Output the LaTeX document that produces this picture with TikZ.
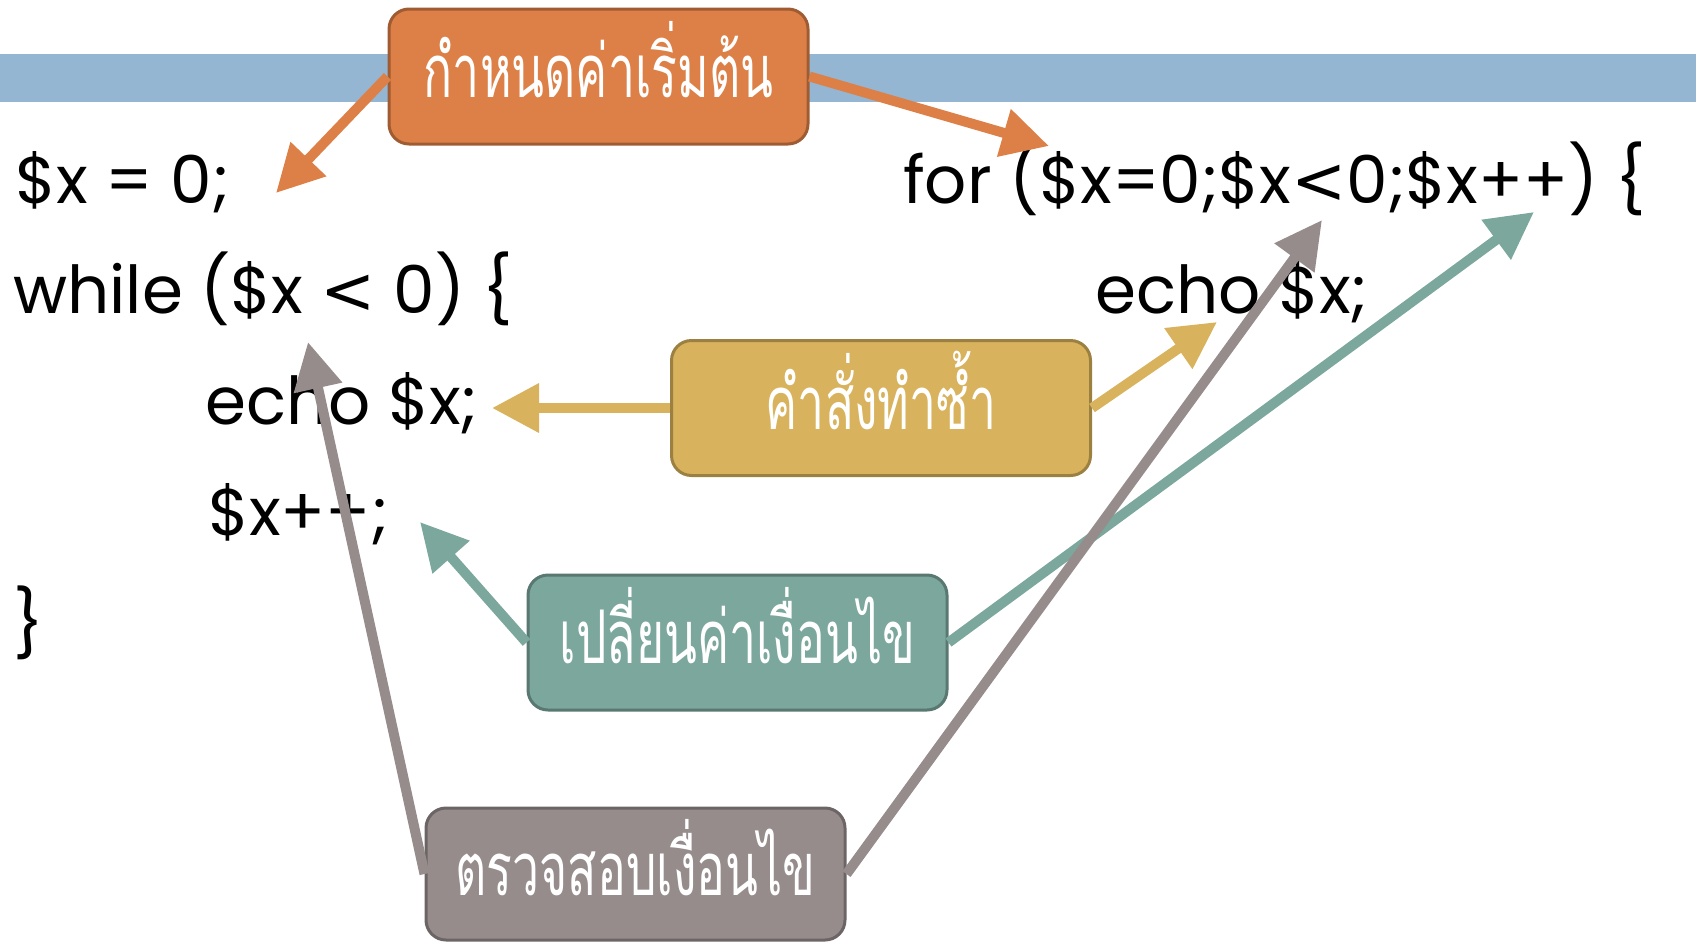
\documentclass[tikz,border=0pt]{standalone}
\usepackage{fontspec}
\newfontfamily\thaifont[Script=Thai, FakeStretch=0.65]{Loma}
\newfontfamily\codefont{Poppins}
\newfontfamily\symfont{DejaVu Sans}
\newcommand\lessthan{{\symfont <}}
\usepackage{xcolor}
\usetikzlibrary{arrows.meta, positioning}

\definecolor{barblue}{HTML}{94B6D2}
\definecolor{initorange}{HTML}{DD8047}
\definecolor{loopyellow}{HTML}{D8B25C}
\definecolor{stepgreen}{HTML}{7BA79D}
\definecolor{testgray}{HTML}{968C8C}

\tikzset{
  labelbox/.style={draw=#1!72!black, fill=#1, line width=3pt, rounded corners=20pt,
    minimum width=419pt, minimum height=135pt, text=white,
    text height=52pt, text depth=10pt,
    font=\thaifont\fontsize{74}{90}\selectfont},
  pointer/.style={draw=#1, line width=10pt, -{Triangle[length=47pt,width=47pt]}},
  codeline/.style={anchor=base west, inner sep=0pt, font=\codefont\fontsize{66}{78}\selectfont},
}

\begin{document}
\begin{tikzpicture}[x=1pt, y=-1pt]
            \useasboundingbox (0,0) rectangle (1696,943);
            % title bar
            \fill[barblue] (0,54) rectangle (1696,102);

            % code
            \node[codeline] (assign) at (15,203) {\$x = 0;};
            \node[codeline] (while) at (13,313) {while (\$x \lessthan{} 0) \{};
            \node[codeline] (echo) at (205,424) {echo \$x;};
            \node[codeline] (incr) at (208,535) {\$x++;};
            \node[codeline] (close) at (13,647) {\}};
            \node[codeline] (for) at (903,203) {for (\$x=0;\$x\lessthan0;\$x++) \{};
            \node[codeline] (forecho) at (1095,313) {echo \$x;};

            % labels
            \node[labelbox=initorange] (init) at (598.5,76.5) {กำหนดค่าเริ่มต้น};
            \node[labelbox=loopyellow] (loop) at (881,408) {คำสั่งทำซ้ำ};
            \node[labelbox=stepgreen] (step) at (737.5,642.5) {เปลี่ยนค่าเงื่อนไข};
            \node[labelbox=testgray, minimum height=132pt] (test) at (635.5,874) {ตรวจสอบเงื่อนไข};

            % arrow targets
            \coordinate (init-while) at (276,193);
            \coordinate (init-for) at (1049,146);
            \coordinate (loop-while) at (492,408);
            \coordinate (loop-for) at (1217,322);
            \coordinate (step-while) at (420,522);
            \coordinate (step-for) at (1534,212);
            \coordinate (test-while) at (308,342);
            \coordinate (test-for) at (1322,220);

            \draw[pointer=initorange] (init.west) -- (init-while);
            \draw[pointer=initorange] (init.east) -- (init-for);
            \draw[pointer=loopyellow] (loop.west) -- (loop-while);
            \draw[pointer=loopyellow] (loop.east) -- (loop-for);
            \draw[pointer=stepgreen] (step.west) -- (step-while);
            \draw[pointer=stepgreen] (step.east) -- (step-for);
            \draw[pointer=testgray] (test.west) -- (test-while);
            \draw[pointer=testgray] (test.east) -- (test-for);
\end{tikzpicture}
\end{document}
